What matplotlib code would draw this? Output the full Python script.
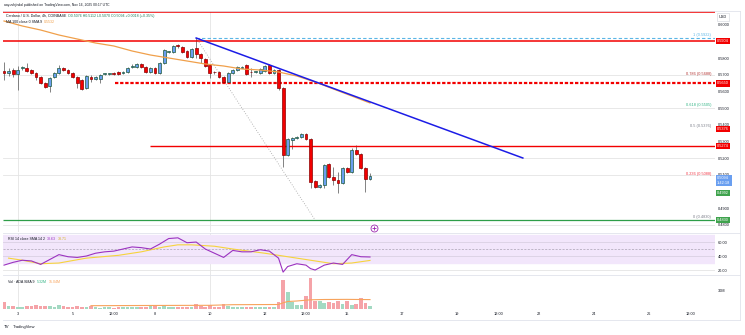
import matplotlib.pyplot as plt
import matplotlib.transforms as mtransforms
from matplotlib.lines import Line2D
import numpy as np

plt.rcParams['font.family'] = ['Liberation Sans', 'DejaVu Sans']

W, H = 745, 335

# 4h candles, ADA/USD
opens = [0.5724, 0.5712, 0.5730, 0.5706, 0.5742, 0.5742, 0.5730, 0.5712, 0.5688, 0.5652,
         0.5634, 0.5688, 0.5712, 0.5742, 0.5730, 0.5712, 0.5688, 0.5670, 0.5622, 0.5688,
         0.5676, 0.5676, 0.5706, 0.5706, 0.5712, 0.5718, 0.5712, 0.5718, 0.5748, 0.5748,
         0.5766, 0.5748, 0.5718, 0.5742, 0.5712, 0.5772, 0.5838, 0.5838, 0.5874, 0.5868,
         0.5844, 0.5808, 0.5862, 0.5826, 0.5796, 0.5760, 0.5718, 0.5718, 0.5688, 0.5658,
         0.5712, 0.5730, 0.5742, 0.5760, 0.5718, 0.5718, 0.5712, 0.5724, 0.5760, 0.5712,
         0.5730, 0.5622, 0.5220, 0.5310, 0.5322, 0.5328, 0.5346, 0.5316, 0.5064, 0.5028,
         0.5040, 0.5166, 0.5088, 0.5070, 0.5052, 0.5142, 0.5118, 0.5250, 0.5226, 0.5142,
         0.5076]
closes = [0.5712, 0.5724, 0.5706, 0.5730, 0.5743, 0.5724, 0.5712, 0.5688, 0.5652, 0.5628,
          0.5682, 0.5712, 0.5742, 0.5730, 0.5712, 0.5688, 0.5652, 0.5616, 0.5694, 0.5676,
          0.5688, 0.5700, 0.5707, 0.5707, 0.5706, 0.5706, 0.5718, 0.5742, 0.5754, 0.5766,
          0.5748, 0.5718, 0.5742, 0.5712, 0.5772, 0.5850, 0.5839, 0.5874, 0.5873, 0.5838,
          0.5808, 0.5856, 0.5826, 0.5802, 0.5754, 0.5712, 0.5716, 0.5688, 0.5658, 0.5712,
          0.5730, 0.5748, 0.5748, 0.5706, 0.5717, 0.5719, 0.5736, 0.5754, 0.5712, 0.5730,
          0.5622, 0.5220, 0.5316, 0.5322, 0.5328, 0.5346, 0.5316, 0.5058, 0.5028, 0.5040,
          0.5160, 0.5088, 0.5070, 0.5052, 0.5142, 0.5118, 0.5250, 0.5226, 0.5142, 0.5076,
          0.5094]
highs = [0.5778, 0.5742, 0.5742, 0.5754, 0.5754, 0.5772, 0.5736, 0.5718, 0.5694, 0.5658,
         0.5688, 0.5718, 0.5760, 0.5748, 0.5736, 0.5718, 0.5694, 0.5676, 0.5700, 0.5700,
         0.5694, 0.5706, 0.5712, 0.5710, 0.5718, 0.5724, 0.5724, 0.5748, 0.5766, 0.5772,
         0.5772, 0.5754, 0.5748, 0.5748, 0.5778, 0.5856, 0.5844, 0.5880, 0.5886, 0.5874,
         0.5850, 0.5862, 0.5922, 0.5832, 0.5802, 0.5766, 0.5724, 0.5724, 0.5694, 0.5718,
         0.5736, 0.5754, 0.5754, 0.5766, 0.5742, 0.5724, 0.5742, 0.5760, 0.5766, 0.5736,
         0.5736, 0.5628, 0.5322, 0.5328, 0.5334, 0.5352, 0.5352, 0.5322, 0.5070, 0.5046,
         0.5166, 0.5172, 0.5148, 0.5118, 0.5148, 0.5148, 0.5262, 0.5280, 0.5232, 0.5148,
         0.5112]
lows = [0.5670, 0.5694, 0.5688, 0.5610, 0.5730, 0.5718, 0.5706, 0.5670, 0.5646, 0.5622,
        0.5598, 0.5682, 0.5706, 0.5724, 0.5706, 0.5682, 0.5622, 0.5610, 0.5616, 0.5658,
        0.5670, 0.5652, 0.5700, 0.5702, 0.5700, 0.5700, 0.5706, 0.5712, 0.5742, 0.5742,
        0.5742, 0.5712, 0.5712, 0.5706, 0.5706, 0.5766, 0.5832, 0.5832, 0.5862, 0.5832,
        0.5802, 0.5802, 0.5802, 0.5772, 0.5748, 0.5682, 0.5706, 0.5682, 0.5652, 0.5652,
        0.5706, 0.5724, 0.5742, 0.5700, 0.5688, 0.5712, 0.5706, 0.5718, 0.5706, 0.5706,
        0.5610, 0.5148, 0.5214, 0.5256, 0.5316, 0.5322, 0.5310, 0.5022, 0.5022, 0.5022,
        0.5022, 0.5082, 0.5040, 0.4992, 0.5046, 0.5112, 0.5112, 0.5220, 0.5136, 0.4998,
        0.5070]
volumes = [11.2, 4.8, 4.8, 4.0, 3.2, 5.6, 4.8, 6.4, 4.8, 4.8,
           4.8, 4.0, 6.4, 5.6, 3.2, 4.0, 5.6, 3.2, 3.2, 4.8,
           3.2, 2.4, 3.2, 3.2, 2.4, 3.2, 3.2, 4.0, 3.2, 3.2,
           3.2, 3.2, 6.4, 4.8, 4.0, 5.6, 3.2, 3.2, 4.0, 3.2,
           3.2, 3.2, 8.0, 4.8, 3.2, 6.4, 3.2, 3.2, 8.0, 4.8,
           3.2, 3.2, 4.0, 3.2, 3.2, 3.2, 3.2, 3.2, 3.2, 3.2,
           11.2, 46.4, 27.2, 11.2, 6.4, 6.4, 20.8, 49.6, 12.8, 12.8,
           9.6, 11.2, 9.6, 12.8, 8.0, 12.8, 6.4, 8.0, 17.6, 9.6,
           5.32]

# price moving average (orange)
ma_idx = [0, 4, 8, 12, 16, 20, 24, 28, 32, 36, 40, 44, 48, 52, 56, 60, 64, 68, 72, 76, 80]
ma_vals = [0.6024, 0.5994, 0.5970, 0.5940, 0.5916, 0.5892, 0.5874, 0.5844, 0.5820, 0.5802,
           0.5784, 0.5766, 0.5754, 0.5736, 0.5730, 0.5718, 0.5694, 0.5658, 0.5616, 0.5574,
           0.5532]

# RSI and its moving average
rsi_idx = [0, 2, 4, 6, 8, 10, 12, 14, 16, 18, 20, 22, 24, 26, 28, 30, 32, 34, 36, 38,
           40, 42, 44, 46, 48, 50, 52, 54, 56, 58, 60, 61, 62, 64, 66, 67, 68, 70, 72, 74,
           76, 78, 80]
rsi_vals = [27, 31, 34, 33, 28, 35, 42, 39, 38, 40, 44, 46, 47, 50, 53, 52, 50, 57, 65, 66,
            59, 60, 50, 44, 38, 48, 46, 46, 49, 47, 37, 17, 25, 29, 27, 22, 20, 27, 30, 28,
            42, 39, 38.63]
rsi_ma_idx = [1, 4, 8, 12, 18, 25, 30, 35, 38, 41, 46, 50, 57, 62, 68, 72, 76, 80]
rsi_ma_vals = [37, 34, 29, 30, 37, 41, 46, 53, 56, 56, 54, 50, 44, 39, 33, 29, 30, 33.71]

# volume moving average
vol_ma_idx = [19, 30, 45, 50, 60, 61, 62, 64, 67, 70, 75, 80]
vol_ma_vals = [5.3, 5.6, 5.9, 6.9, 7.2, 9.9, 12.0, 12.8, 14.7, 15.2, 15.4, 15.04]

# drawings
fib_start, fib_end = 42, 68
fib_hi, fib_lo = 0.5922, 0.4830
fib_levels = [1, 0.786, 0.618, 0.5, 0.236, 0]
fib_colors = ['#5bb6e6', '#b2302e', '#2fb383', '#787b86', '#f23645', '#787b86']
trend_x = [42, 113.4]
trend_y = [0.5922, 0.5202]
level_prices = [0.6076, 0.5904, 0.5650, 0.5274, 0.4830]
level_starts = [-0.2, -0.2, 24.3, 31.9, -0.2]
level_colors = ['#f20000', '#f20000', '#f20000', '#f20000', '#2e9e48']
level_styles = ['-', '-', (0, (1.5, 0.8)), '-', '-']
level_widths = [1.1, 1.1, 1.6, 1.0, 0.9]
grid_prices = [0.57, 0.55, 0.52, 0.51, 0.48]
week_starts = [3, 45]
alert_idx, alert_price = 80.9, 0.4782

tick_idx = [3, 15, 24, 33, 45, 57, 66, 75, 87, 99, 108, 117, 129, 141, 150]
tick_labels = ['3', '5', '12:00', '8', '10', '12', '12:00', '15', '17', '19', '12:00',
               '22', '24', '26', '12:00']

o = np.array(opens); c = np.array(closes)
hi = np.array(highs); lo = np.array(lows)
x = np.arange(len(o))
up = c >= o
xmin, xmax = -0.22, 155.4


def fx(px):
    return px / W


def fy(py):
    return 1 - py / H


fig = plt.figure(figsize=(W / 100, H / 100), dpi=100)
fig.patch.set_facecolor('white')
left, right = fx(3), fx(715)
ax = fig.add_axes([left, fy(232), right - left, fy(11) - fy(232)])
ax_rsi = fig.add_axes([left, fy(275), right - left, fy(233) - fy(275)], sharex=ax)
ax_vol = fig.add_axes([left, fy(309), right - left, fy(275) - fy(309)], sharex=ax)

for a in (ax, ax_rsi, ax_vol):
    for s in a.spines.values():
        s.set_visible(False)
    a.yaxis.tick_right()
    a.tick_params(length=0, labelsize=2.8, labelcolor='#131722', pad=2.2)
    for w in week_starts:
        a.axvline(w, color='#e4e4e4', lw=0.6, zorder=0)
ax.tick_params(labelbottom=False)
ax_rsi.tick_params(labelbottom=False)
ax.set_xlim(xmin, xmax)

# main pane
ax.set_ylim(0.615 - 0.0006 * 232, 0.615 - 0.0006 * 11)
ax.set_yticks(np.round(np.arange(0.48, 0.6051, 0.01), 2))
ax.set_yticklabels([f'{v:.4f}' for v in np.round(np.arange(0.48, 0.6051, 0.01), 2)])
for gp in grid_prices:
    ax.axhline(gp, color='#e4e4e4', lw=0.6, zorder=0)

for p, s, col, ls, lw in zip(level_prices, level_starts, level_colors, level_styles, level_widths):
    ax.hlines(p, s, xmax, color=col, lw=lw, linestyle=ls, zorder=4)

ax.hlines(fib_hi, fib_start, xmax, color=fib_colors[0], lw=0.8, linestyle=(0, (3, 2)), zorder=4)
ax.plot([fib_start, fib_end], [fib_hi, fib_lo], color='#a0a0a0', lw=0.6,
        linestyle=(0, (1, 2)), zorder=2)
for lvl, col in zip(fib_levels, fib_colors):
    price = fib_lo + lvl * (fib_hi - fib_lo)
    ax.text(154.6, price + 0.0006, f'{lvl} ({price:.4f})', color=col, fontsize=2.8,
            ha='right', va='bottom', zorder=6)

ax.plot(ma_idx, ma_vals, color='#f0a04b', lw=0.9, zorder=5)
ax.plot(trend_x, trend_y, color='#1c1ce6', lw=1.1, zorder=6)

ax.vlines(x, lo, hi, color='#6e6e6e', lw=0.6, zorder=3)
body_bottom = np.minimum(o, c)
body_h = np.maximum(np.abs(c - o), 0.0004)
ax.bar(x[up], body_h[up], bottom=body_bottom[up], width=0.62, color='#6a9ff0',
       edgecolor='#1d5a3c', linewidth=0.5, zorder=4)
ax.bar(x[~up], body_h[~up], bottom=body_bottom[~up], width=0.62, color='#f20000',
       edgecolor='#8b0000', linewidth=0.5, zorder=4)

ax.plot(alert_idx, alert_price, marker='o', ms=5, mfc='white', mec='#9c27b0', mew=0.6,
        clip_on=False, zorder=8)
ax.plot(alert_idx, alert_price, marker='+', ms=2.5, mec='#9c27b0', mew=0.6,
        clip_on=False, zorder=9)

# price boxes on the right scale
trans = mtransforms.blended_transform_factory(ax.transAxes, ax.transData)
fib_mid = fib_lo + 0.5 * (fib_hi - fib_lo)
boxes = [(level_prices[1], '#f20000', f'{level_prices[1]:.4f}'),
         (level_prices[2], '#f20000', f'{level_prices[2]:.4f}'),
         (fib_mid, '#f20000', f'{fib_mid:.4f}'),
         (level_prices[3], '#f20000', f'{level_prices[3]:.4f}'),
         (closes[-1], '#6a9ff0', f'{closes[-1]:.4f}\n1:42:18'),
         (min(lows), '#3fa34d', f'{min(lows):.4f}'),
         (level_prices[4], '#3fa34d', f'{level_prices[4]:.4f}')]
for p, col, txt in boxes:
    ax.text(1.003, p, txt, transform=trans, fontsize=2.8, color='white', ha='left',
            va='top' if '\n' in txt else 'center', linespacing=1.3,
            bbox=dict(boxstyle='square,pad=0.35', fc=col, ec='none'),
            zorder=10, clip_on=False)
fig.text(fx(719), fy(17), 'USD', fontsize=2.8, color='#131722', va='center',
         bbox=dict(boxstyle='square,pad=0.5', fc='white', ec='#d0d3db', lw=0.4))

# RSI pane
ax_rsi.set_ylim(12.9, 72.9)
ax_rsi.axhspan(30, 70, color='#f2e6fb', zorder=0)
ax_rsi.axhline(60, color='#d9d0e2', lw=0.6, zorder=1)
ax_rsi.axhline(40, color='#d9d0e2', lw=0.6, zorder=1)
ax_rsi.axhline(20, color='#e4e4e4', lw=0.6, zorder=1)
ax_rsi.axhline(50, color='#a9a2b3', lw=0.5, linestyle=(0, (3, 2)), zorder=1)
ax_rsi.plot(rsi_ma_idx, rsi_ma_vals, color='#f6d33c', lw=0.8, zorder=3)
ax_rsi.plot(rsi_idx, rsi_vals, color='#9b32c0', lw=0.8, zorder=4)
ax_rsi.set_yticks([60, 40, 20])
ax_rsi.set_yticklabels(['60.00', '40.00', '20.00'])

# volume pane
vol = np.array(volumes)
ax_vol.set_ylim(0, 54.4)
ax_vol.bar(x[up], vol[up], width=0.8, color='#a3d9c2', zorder=2)
ax_vol.bar(x[~up], vol[~up], width=0.8, color='#f5a3a8', zorder=2)
ax_vol.plot(vol_ma_idx, vol_ma_vals, color='#f7a35c', lw=0.8, zorder=3)
ax_vol.set_yticks([30])
ax_vol.set_yticklabels(['30M'])
ax_vol.set_xticks(tick_idx)
ax_vol.set_xticklabels(tick_labels)
ax_vol.tick_params(axis='x', pad=2.0)

# frame lines
for yy in (11, 232.5, 275, 320):
    fig.add_artist(Line2D([fx(3), fx(740)], [fy(yy), fy(yy)], color='#e0e3eb', lw=0.6))
fig.add_artist(Line2D([fx(740), fx(740)], [fy(11), fy(320)], color='#e0e3eb', lw=0.6))

renderer = fig.canvas.get_renderer()


def text_chain(parts, px, py, size=2.6):
    xpos = fx(px)
    for txt, col in parts:
        t = fig.text(xpos, fy(py), txt, fontsize=size, color=col, va='center', ha='left')
        bb = t.get_window_extent(renderer=renderer)
        xpos = bb.x1 / W + fx(2)


chg = closes[-1] - closes[-2]
pct = chg / closes[-2] * 100
text_chain([('aayushjindal published on TradingView.com, Nov 16, 2025 00:17 UTC', '#131722')],
           4, 5, 2.4)
text_chain([('Cardano / U.S. Dollar, 4h, COINBASE', '#131722'),
            (f'O{opens[-1]:.4f} H{highs[-1]:.4f} L{lows[-1]:.4f} C{closes[-1]:.4f} '
             f'{chg:+.4f} ({pct:+.2f}%)', '#1f7a5a')], 6, 16)
text_chain([('MA 100 close 0 SMA 9', '#131722'), (f'{ma_vals[-1]:.4f}', '#f0a04b')], 6, 22)
text_chain([('RSI 14 close SMA 14 2', '#131722'), (f'{rsi_vals[-1]:.2f}', '#9b32c0'),
            (f'{rsi_ma_vals[-1]:.2f}', '#d4b21f')], 8, 239)
text_chain([('Vol · ADA SMA 9', '#131722'), (f'{volumes[-1]:.2f}M', '#2fb383'),
            (f'{vol_ma_vals[-1]:.2f}M', '#f7a35c')], 8, 282)
text_chain([('TV', '#131722')], 4, 327, 3.2)
text_chain([('TradingView', '#131722')], 13, 327, 3.0)

fig.savefig('out.png', dpi=100)
